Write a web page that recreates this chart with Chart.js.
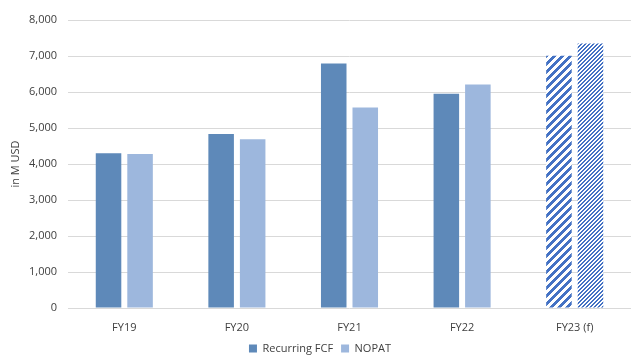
<!DOCTYPE html>
<html><head><meta charset="utf-8">
<script src="https://cdn.jsdelivr.net/npm/chart.js@4/dist/chart.umd.min.js"></script>
<style>html,body{margin:0;padding:0;background:#fff}#wrap{width:640px;height:360px}</style>
</head><body><div id="wrap"><canvas id="c" width="640" height="360"></canvas></div>
<script>
const categories = ["FY19", "FY20", "FY21", "FY22", "FY23 (f)"];
const recurringFCF = [4300, 4830, 6790, 5950, 7010];
const nopat = [4280, 4690, 5570, 6210, 7350];
const yTicks = [0, 1000, 2000, 3000, 4000, 5000, 6000, 7000, 8000];
const forecastIndex = 4;

const FCF_COLOR = "#5E89B9";
const NOPAT_COLOR = "#9DB7DD";
const HATCH = "#4472C4";

function stripes(period, band) {
  const cv = document.createElement("canvas");
  cv.width = period; cv.height = period;
  const g = cv.getContext("2d");
  g.fillStyle = "#fff"; g.fillRect(0, 0, period, period);
  g.fillStyle = HATCH;
  for (let x = 0; x < period; x++) for (let y = 0; y < period; y++) {
    if ((x + y) % period < band) g.fillRect(x, y, 1, 1);
  }
  return g.createPattern(cv, "repeat");
}
const ctx = document.getElementById("c").getContext("2d");
const hatchWide = stripes(8, 4);
const hatchNarrow = stripes(4, 2);

const colorsFor = (base, pat) => categories.map((_, i) => i === forecastIndex ? pat : base);
const FONT = "'Open Sans', sans-serif";
const TXT = "#404040";

const legendHeightFix = {
  id: "legendHeightFix",
  afterInit(chart) {
    const lg = chart.legend;
    if (!lg) return;
    const orig = lg.fit.bind(lg);
    lg.fit = function () { orig(); this.height = 25; };
  }
};

new Chart(ctx, {
  type: "bar",
  data: {
    labels: categories,
    datasets: [
      { label: "Recurring FCF", data: recurringFCF, backgroundColor: colorsFor(FCF_COLOR, hatchWide), legendColor: FCF_COLOR },
      { label: "NOPAT", data: nopat, backgroundColor: colorsFor(NOPAT_COLOR, hatchNarrow), legendColor: NOPAT_COLOR }
    ]
  },
  plugins: [legendHeightFix],
  options: {
    responsive: false,
    animation: false,
    devicePixelRatio: 1,
    datasets: { bar: { categoryPercentage: 0.56, barPercentage: 0.81 } },
    layout: { padding: { left: 9, right: 9, top: 20, bottom: 0 } },
    plugins: {
      tooltip: { enabled: false },
      legend: {
        position: "bottom",
        labels: {
          boxWidth: 8, boxHeight: 8, padding: 8,
          color: TXT, font: { family: FONT, size: 11 },
          generateLabels: (chart) => chart.data.datasets.map((d, i) => ({
            text: d.label, fillStyle: d.legendColor, strokeStyle: d.legendColor,
            lineWidth: 0, hidden: false, datasetIndex: i, fontColor: TXT
          }))
        }
      }
    },
    scales: {
      x: {
        afterFit: (s) => { s.height = 27; },
        grid: { display: false, drawTicks: false },
        border: { display: false },
        ticks: { color: TXT, font: { family: FONT, size: 11 }, padding: 13 }
      },
      y: {
        min: 0, max: 8000,
        afterBuildTicks: (s) => { s.ticks = yTicks.map(v => ({ value: v })); },
        afterFit: (s) => { s.width = 59; },
        grid: { color: "#D9D9D9", lineWidth: 1, drawTicks: false },
        border: { display: false },
        ticks: {
          color: TXT, font: { family: FONT, size: 11 }, padding: 11,
          callback: (v) => v.toLocaleString("en-US")
        },
        title: { display: true, text: "in M USD", color: TXT, font: { family: FONT, size: 11 }, padding: 0 }
      }
    }
  }
});
</script>
</body></html>
